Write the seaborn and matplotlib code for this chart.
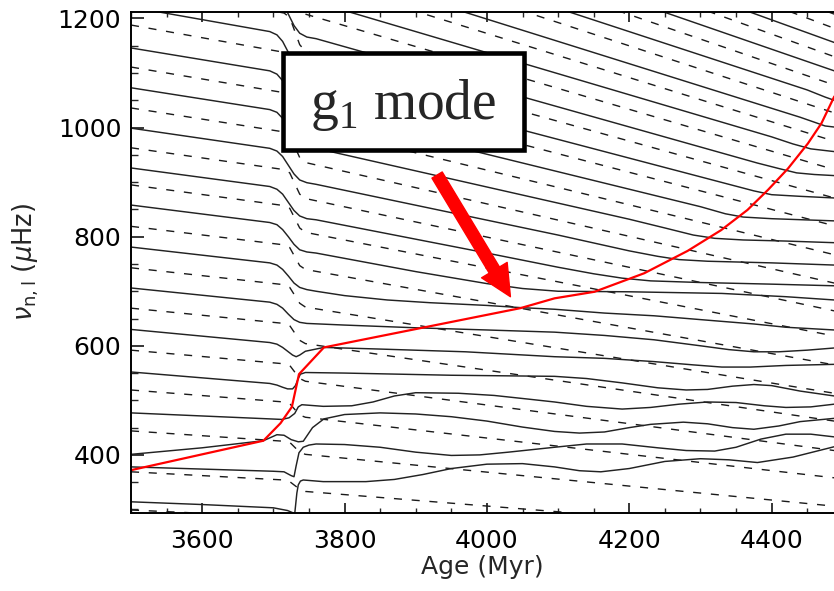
import numpy as np
import pandas as pd
import matplotlib
matplotlib.use("Agg")
import matplotlib.pyplot as plt
import seaborn as sns
from matplotlib.ticker import MultipleLocator
from matplotlib.patches import Rectangle

sns.set_theme(style="white")
plt.rcParams["font.family"] = ["DejaVu Sans"]

# ---------------- data ----------------
# g1 mode track (red)
g1_age = [3500, 3686, 3710, 3726, 3736, 3771, 4047, 4095, 4151, 4221, 4282,
          4329, 4366, 4395, 4423, 4451, 4470, 4488]
g1_freq = [372, 426, 458, 488, 548, 597, 669, 687, 699, 733, 774,
           812, 849, 886, 925, 971, 1008, 1057]

# radial (l=0) modes, dashed: frequency at these ages
l0_age = [3500, 3715, 3723, 3737, 3745, 4488]
l0_n08 = [299, 286, 285, 273, 270, 206]
l0_n09 = [369, 354, 351, 337, 333, 255]
l0_n10 = [444, 425, 423, 405, 401, 306]
l0_n11 = [519, 497, 494, 473, 469, 358]
l0_n12 = [592, 567, 564, 540, 535, 408]
l0_n13 = [669, 641, 637, 610, 604, 462]
l0_n14 = [743, 712, 707, 678, 671, 513]
l0_n15 = [819, 785, 780, 747, 740, 565]
l0_n16 = [895, 857, 852, 816, 808, 618]
l0_n17 = [963, 923, 917, 878, 870, 664]
l0_n18 = [1036, 992, 986, 945, 936, 715]
l0_n19 = [1111, 1064, 1058, 1013, 1003, 767]
l0_n20 = [1188, 1138, 1131, 1083, 1073, 820]
l0_n21 = [1263, 1210, 1202, 1152, 1140, 871]
l0_n22 = [1338, 1282, 1274, 1220, 1208, 923]
l0_n23 = [1413, 1354, 1345, 1289, 1276, 975]
l0_n24 = [1488, 1425, 1417, 1357, 1344, 1027]
l0_n25 = [1563, 1497, 1488, 1425, 1411, 1078]
l0_n26 = [1638, 1569, 1559, 1494, 1479, 1130]
l0_n27 = [1713, 1641, 1631, 1562, 1547, 1182]
l0_n28 = [1788, 1713, 1702, 1631, 1615, 1234]
l0_lines = [l0_n08, l0_n09, l0_n10, l0_n11, l0_n12, l0_n13, l0_n14, l0_n15,
            l0_n16, l0_n17, l0_n18, l0_n19, l0_n20, l0_n21, l0_n22, l0_n23,
            l0_n24, l0_n25, l0_n26, l0_n27, l0_n28]

# dipole (l=1) modes, solid
a_314 = [3500, 3600, 3700, 3720, 3729]
f_314 = [314, 309, 303, 298, 293]

a_g2 = [3730, 3733, 3735, 3738, 3742, 3770, 3830, 3870, 3910, 3950, 4000,
        4050, 4095, 4130, 4160, 4200, 4250, 4300, 4340, 4380, 4430, 4488]
f_g2 = [292, 330, 345, 352, 354, 351, 351, 355, 364, 375, 383,
        384, 378, 371, 369, 375, 388, 393, 391, 386, 396, 415]

a_378 = [3500, 3600, 3700, 3715, 3725, 3729, 3732, 3736, 3742, 3750, 3760,
         3800, 3850, 3900, 3950, 3990, 4030, 4095, 4140, 4190, 4240, 4280,
         4320, 4350, 4385, 4420, 4455, 4488]
f_378 = [378, 374, 370, 369, 362, 360, 380, 404, 414, 418, 420,
         419, 414, 405, 399, 400, 405, 414, 420, 420, 413, 408,
         407, 414, 429, 438, 438, 433]

a_400 = [3500, 3600, 3686, 3705, 3715, 3725, 3735, 3742, 3755, 3771, 3800,
         3850, 3900, 3950, 4000, 4050, 4095, 4130, 4165, 4200, 4230, 4276,
         4310, 4345, 4375, 4410, 4440, 4488]
f_400 = [401, 413, 426, 437, 436, 428, 424, 425, 450, 466, 474,
         477, 475, 470, 462, 451, 443, 440, 442, 450, 456, 460,
         457, 450, 447, 453, 461, 467]

a_477 = [3500, 3695, 3712, 3722, 3730, 3735, 3740, 3770, 3810, 3840, 3870,
         3900, 3960, 4010, 4060, 4095, 4140, 4190, 4230, 4270, 4310, 4350,
         4390, 4420, 4455, 4488]
f_477 = [477, 466, 465, 468, 476, 488, 492, 489, 490, 497, 508,
         514, 513, 509, 502, 497, 489, 484, 487, 493, 497, 496,
         490, 487, 488, 493]

a_550 = [3500, 3695, 3705, 3713, 3720, 3727, 3731, 3735, 3738, 3745, 3800,
         3950, 4095, 4140, 4190, 4240, 4280, 4310, 4345, 4375, 4400, 4440,
         4488]
f_550 = [552, 531, 528, 524, 521, 521, 527, 540, 548, 551, 550,
         546, 544, 540, 532, 523, 519, 520, 526, 529, 527, 517,
         508]

a_629 = [3500, 3695, 3705, 3713, 3720, 3727, 3732, 3737, 3745, 3771, 3850,
         3970, 4095, 4165, 4235, 4290, 4330, 4370, 4420, 4488]
f_629 = [630, 606, 603, 597, 590, 583, 580, 583, 590, 597, 594,
         589, 580, 577, 571, 565, 561, 561, 564, 566]

a_706 = [3500, 3695, 3705, 3713, 3721, 3729, 3737, 3747, 3800, 3900, 4000,
         4095, 4165, 4235, 4300, 4340, 4375, 4410, 4450, 4488]
f_706 = [706, 680, 676, 669, 658, 648, 643, 641, 638, 633, 629,
         625, 619, 611, 600, 593, 589, 589, 592, 596]

a_781 = [3500, 3695, 3705, 3713, 3721, 3729, 3737, 3747, 3760, 3800, 3860,
         3920, 4000, 4047, 4095, 4165, 4235, 4300, 4375, 4420, 4488]
f_781 = [781, 752, 748, 740, 728, 715, 707, 703, 700, 692, 684,
         679, 674, 670, 667, 660, 655, 648, 640, 634, 629]

p_age = [3500, 3695, 3705, 3713, 3721, 3729, 3737, 3747, 3760]

a_858 = p_age + [3900, 4000, 4050, 4100, 4200, 4330, 4420, 4488]
f_858 = [858, 826, 822, 813, 800, 786, 776, 772, 770,
         736, 714, 705, 700, 699, 696, 690, 684]

a_926 = p_age + [4000, 4100, 4150, 4190, 4230, 4300, 4400, 4488]
f_926 = [926, 892, 887, 878, 863, 848, 838, 833, 831,
         770, 744, 732, 724, 719, 716, 713, 710]

a_999 = p_age + [4100, 4200, 4240, 4270, 4310, 4400, 4488]
f_999 = [999, 962, 957, 947, 931, 915, 904, 899, 896,
         803, 774, 764, 758, 755, 752, 748]

a_1073 = p_age + [4200, 4250, 4290, 4320, 4360, 4420, 4488]
f_1073 = [1073, 1033, 1028, 1017, 1000, 983, 971, 966, 962,
          832, 816, 803, 797, 794, 792, 789]

a_1146 = p_age + [4300, 4335, 4360, 4400, 4488]
f_1146 = [1146, 1104, 1098, 1086, 1068, 1050, 1037, 1031, 1028,
          855, 842, 836, 833, 829]

a_1221 = p_age + [4340, 4375, 4400, 4440, 4488]
f_1221 = [1221, 1176, 1170, 1158, 1138, 1118, 1105, 1099, 1095,
          896, 884, 877, 874, 871]

a_1296 = p_age + [4380, 4410, 4435, 4460, 4488]
f_1296 = [1296, 1248, 1242, 1229, 1208, 1187, 1173, 1166, 1163,
          935, 925, 917, 914, 912]

a_1371 = p_age + [4400, 4430, 4455, 4488]
f_1371 = [1371, 1320, 1313, 1300, 1278, 1256, 1241, 1234, 1230,
          983, 970, 961, 956]

a_1446 = p_age + [4440, 4462, 4475, 4488]
f_1446 = [1446, 1392, 1385, 1371, 1348, 1325, 1309, 1301, 1297,
          1019, 1009, 1003, 1001]

a_1521 = [3747, 3760, 4450, 4475, 4488]
f_1521 = [1369, 1364, 1069, 1056, 1050]

a_top = [3760, 4488]
f_1596 = [1432, 1104]
f_1671 = [1499, 1156]
f_1746 = [1566, 1208]

l1_lines = [(a_314, f_314), (a_g2, f_g2), (a_378, f_378), (a_400, f_400),
            (a_477, f_477), (a_550, f_550), (a_629, f_629), (a_706, f_706),
            (a_781, f_781), (a_858, f_858), (a_926, f_926), (a_999, f_999),
            (a_1073, f_1073), (a_1146, f_1146), (a_1221, f_1221),
            (a_1296, f_1296), (a_1371, f_1371), (a_1446, f_1446),
            (a_1521, f_1521), (a_top, f_1596), (a_top, f_1671), (a_top, f_1746)]

x_ticks = [3600, 3800, 4000, 4200, 4400]
y_ticks = [400, 600, 800, 1000, 1200]

# ---------------- figure ----------------
fig = plt.figure(figsize=(8.34, 5.91), dpi=100)
ax = fig.add_axes([131 / 834, 1 - 512.5 / 591, (834 - 131) / 834, (512.5 - 12) / 591])

for row in l0_lines:
    sns.lineplot(x=l0_age, y=row, ax=ax, color="#1a1a1a", lw=1.0,
                 linestyle=(0, (5.8, 7.0)), estimator=None, sort=False)
for ages, freqs in l1_lines:
    sns.lineplot(x=ages, y=freqs, ax=ax, color="#222222", lw=1.05,
                 estimator=None, sort=False)
sns.lineplot(x=g1_age, y=g1_freq, ax=ax, color="#ff0000", lw=1.6,
             estimator=None, sort=False)

ax.set_xlim(3500, 4487.6)
ax.set_ylim(294.4, 1211.9)
ax.set_xticks(x_ticks)
ax.set_yticks(y_ticks)
ax.xaxis.set_minor_locator(MultipleLocator(50))
ax.yaxis.set_minor_locator(MultipleLocator(50))
ax.tick_params(axis="x", which="major", direction="in", length=7, width=1.1,
               top=True, bottom=True, labelsize=18, pad=12, colors="black")
ax.tick_params(axis="x", which="minor", direction="in", length=3.5, width=1.0,
               top=True, bottom=True)
ax.tick_params(axis="y", which="major", direction="in", length=9.5, width=1.1,
               left=True, right=False, labelsize=18, pad=7, colors="black")
ax.tick_params(axis="y", which="minor", direction="in", length=5, width=1.0,
               left=True, right=False)
for s in ["left", "bottom", "top"]:
    ax.spines[s].set_color("black")
    ax.spines[s].set_linewidth(1.4)
ax.spines["right"].set_visible(False)

ax.set_xlabel("Age (Myr)", fontsize=18, labelpad=1)
ax.set_ylabel(r"$\nu_{\rm n,l}$ ($\mu$Hz)", fontsize=18.5, labelpad=12)

# annotation box and arrow
ax.add_patch(Rectangle((3714.2, 959), 337.2, 177.7, facecolor="white",
                       edgecolor="black", linewidth=3.3, zorder=5))
ax.text(3882, 1041, r"g$_{\mathregular{1}}$ mode", fontsize=40,
        family="Liberation Serif", ha="center", va="center", zorder=6)
ax.annotate("", xy=(4033, 690), xytext=(3930, 913),
            arrowprops=dict(arrowstyle="simple,head_length=2.6,head_width=2.5,tail_width=1.0",
                            color="#ff0000", mutation_scale=8.6, shrinkA=0, shrinkB=0),
            zorder=6)

fig.savefig("out.png", dpi=100)
